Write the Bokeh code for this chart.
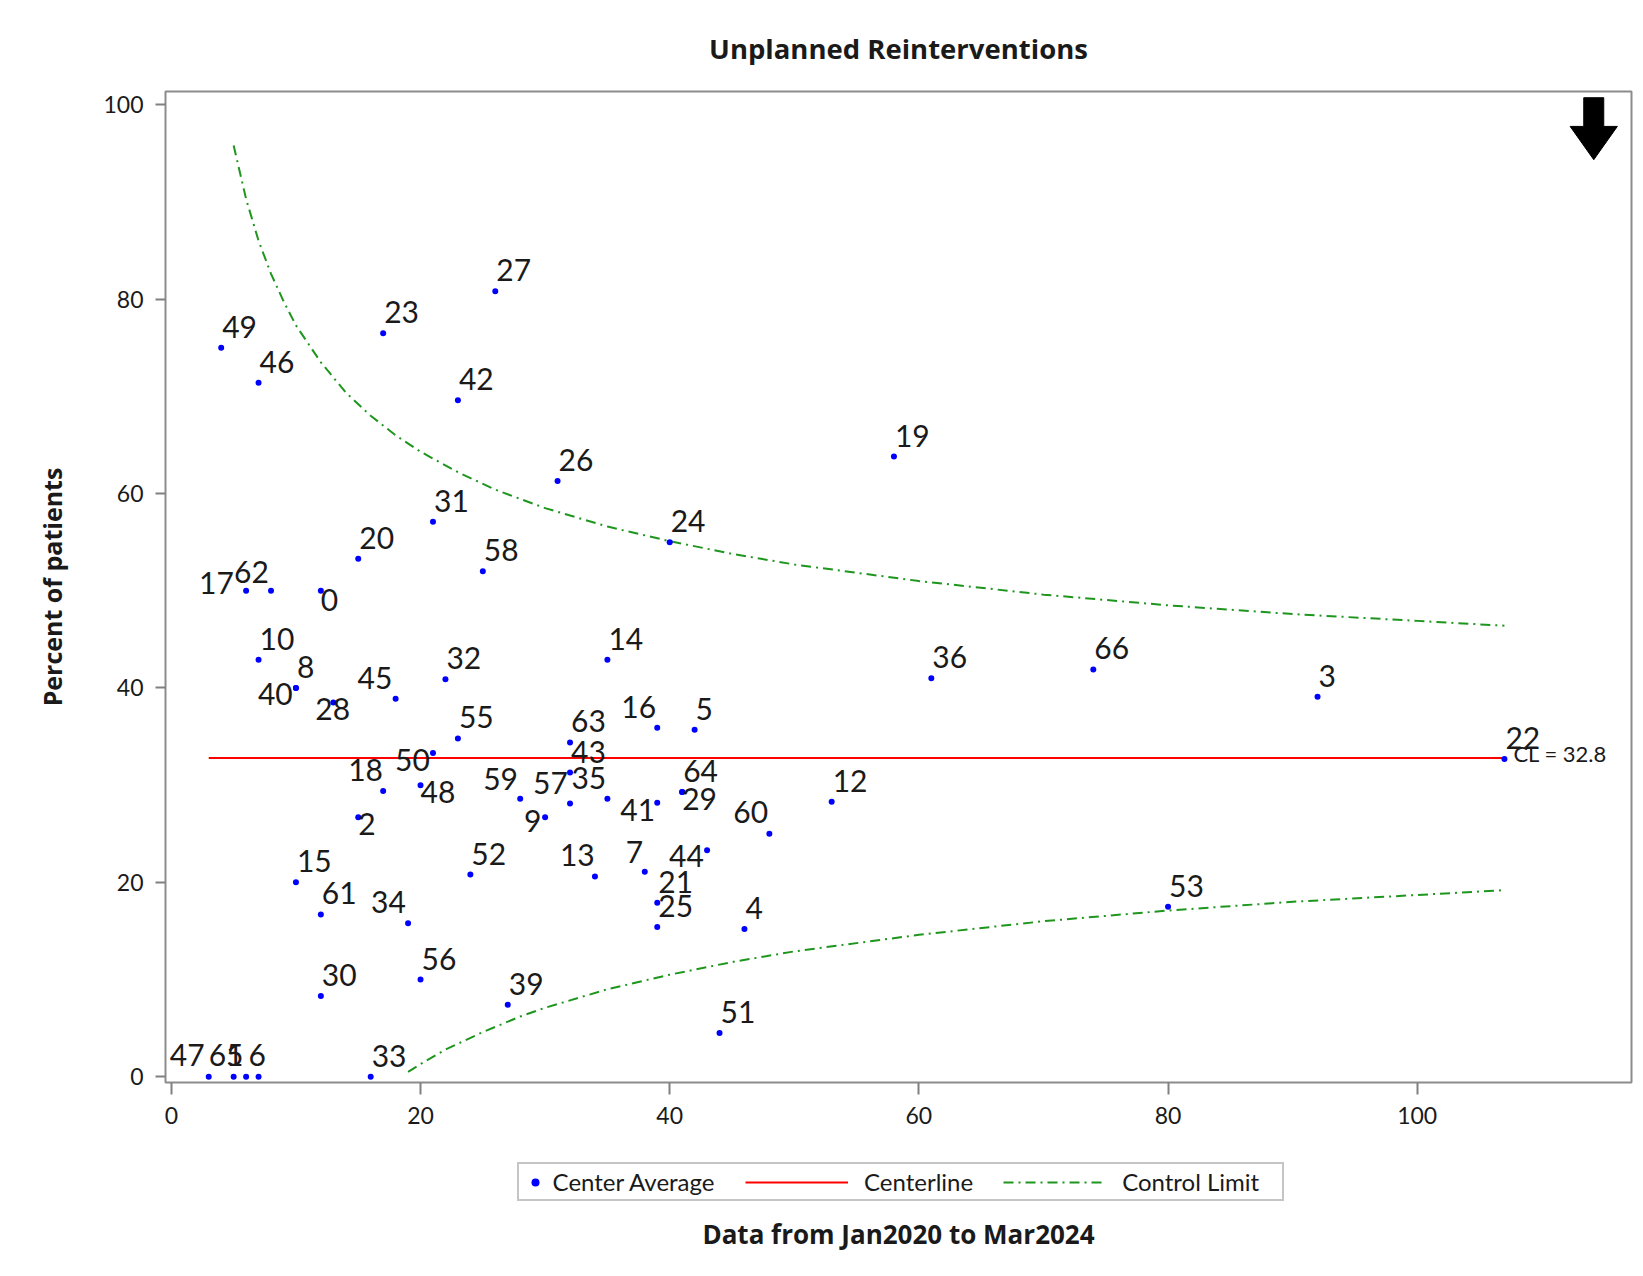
from bokeh.plotting import figure
from bokeh.layouts import column
from bokeh.models import Range1d, Legend, LegendItem, FixedTicker, ColumnDataSource
from bokeh.core.properties import value
from bokeh.embed import file_html
from bokeh.resources import INLINE

# ---------------- data ----------------
center_ids = [0, 1, 2, 3, 4, 5, 6, 7, 8, 9, 10, 12, 13, 14, 15, 16, 17, 18, 19, 20,
              21, 22, 23, 24, 25, 26, 27, 28, 29, 30, 31, 32, 33, 34, 35, 36, 39, 40,
              41, 42, 43, 44, 45, 46, 47, 48, 49, 50, 51, 52, 53, 55, 56, 57, 58, 59,
              60, 61, 62, 63, 64, 65, 66]
n_cases = [12, 6, 15, 92, 46, 42, 7, 38, 10, 30, 7, 53, 34, 35, 10, 39, 6, 17, 58, 15,
           39, 107, 17, 40, 39, 31, 26, 13, 41, 12, 21, 22, 16, 19, 35, 61, 27, 10,
           39, 23, 32, 43, 18, 7, 3, 20, 4, 21, 44, 24, 80, 23, 20, 32, 25, 28,
           48, 12, 8, 32, 41, 5, 74]
pct_patients = [50.0, 0.0, 26.7, 39.1, 15.2, 35.7, 0.0, 21.1, 40.0, 26.7, 42.9, 28.3, 20.6, 42.9, 20.0, 35.9, 50.0, 29.4, 63.8, 53.3,
                17.9, 32.7, 76.5, 55.0, 15.4, 61.3, 80.8, 38.5, 29.3, 8.3, 57.1, 40.9, 0.0, 15.8, 28.6, 41.0, 7.4, 40.0,
                28.2, 69.6, 31.3, 23.3, 38.9, 71.4, 0.0, 30.0, 75.0, 33.3, 4.5, 20.8, 17.5, 34.8, 10.0, 28.1, 52.0, 28.6,
                25.0, 16.7, 50.0, 34.4, 29.3, 0.0, 41.9]

center_line = 32.8
ucl_n = [5, 6, 7, 8, 9, 10, 12, 14, 16, 18, 20, 23, 26, 30, 35, 40, 45, 50, 60, 70, 80, 90, 100, 107]
ucl_pct = [95.8, 90.3, 86.0, 82.6, 79.8, 77.3, 73.5, 70.4, 68.0, 66.0, 64.3, 62.2, 60.4, 58.5, 56.6,
           55.1, 53.8, 52.7, 51.0, 49.6, 48.5, 47.6, 46.9, 46.4]
lcl_n = [19, 20, 22, 25, 28, 30, 35, 40, 45, 50, 60, 70, 80, 90, 100, 107]
lcl_pct = [0.5, 1.3, 2.8, 4.6, 6.2, 7.1, 9.0, 10.5, 11.8, 12.9, 14.6, 16.0, 17.1, 18.0, 18.7, 19.2]

x_ticks = [0, 20, 40, 60, 80, 100]
y_ticks = [0, 20, 40, 60, 80, 100]

chart_title = "Unplanned Reinterventions"
x_title = "Data from Jan2020 to Mar2024"
y_title = "Percent of patients"
legend_labels = ["Center Average", "Centerline", "Control Limit"]

# ---------------- label placement (screen px, styling only) ----------------
V = -11  # shift from baseline offset to text centre
DEFAULT_DX, DEFAULT_DY = 1, -10
label_shift = {
    17: (-47, 3), 62: (-37, -8), 0: (0, 20), 40: (-38, 17), 28: (-18, 17),
    45: (-38, -10), 50: (-38, 18), 18: (-35, -10), 48: (0, 18), 2: (0, 18),
    59: (-37, -9), 9: (-21, 15), 35: (-36, -10), 57: (-37, -10), 16: (-36, -10),
    41: (-37, 18), 29: (0, 18), 60: (-36, -11), 13: (-35, -11), 7: (-19, -9),
    44: (-38, 17), 34: (-37, -10), 47: (-39, -11), 65: (-25, -11), 1: (-20, -11),
    6: (-10, -11),
}
dxs = [label_shift.get(c, (DEFAULT_DX, DEFAULT_DY))[0] for c in center_ids]
dys = [label_shift.get(c, (DEFAULT_DX, DEFAULT_DY))[1] + V for c in center_ids]

src = ColumnDataSource(dict(x=n_cases, y=pct_patients, lab=[str(c) for c in center_ids], dx=dxs, dy=dys))

FONT = "Lato"
BFONT = "Open Sans"
TXT = "#1a1a1a"
GREEN = "#1e961e"
DASHDOT = "10 5 2 5"
W = 1635
FRAME_L, FRAME_R = 165, 1631

p = figure(width=W, height=1140, output_backend="svg", toolbar_location=None,
           x_range=Range1d(-0.47, 117.2), y_range=Range1d(-0.59, 101.36),
           min_border_left=FRAME_L, min_border_right=W - FRAME_R, min_border_top=91, min_border_bottom=58,
           title=chart_title)
p.background_fill_color = "white"
p.border_fill_color = "white"
p.outline_line_color = "#8c8c8c"
p.outline_line_width = 2
p.xgrid.visible = False
p.ygrid.visible = False

p.title.align = "center"
p.title.text_font = BFONT
p.title.text_font_size = "27.5px"
p.title.text_font_style = "bold"
p.title.text_color = TXT
p.title.standoff = 49

for ax in (p.xaxis[0], p.yaxis[0]):
    ax.axis_line_color = None
    ax.major_tick_line_color = "#808080"
    ax.major_tick_line_width = 2
    ax.major_tick_in = 0
    ax.minor_tick_line_color = None
    ax.major_label_text_font = FONT
    ax.major_label_text_font_size = "23px"
    ax.major_label_text_color = TXT
    ax.axis_label_text_font = BFONT
    ax.axis_label_text_font_size = "25px"
    ax.axis_label_text_font_style = "bold"
    ax.axis_label_text_color = TXT

p.xaxis.ticker = FixedTicker(ticks=x_ticks)
p.yaxis.ticker = FixedTicker(ticks=y_ticks)
p.xaxis.major_tick_out = 12
p.yaxis.major_tick_out = 10
p.xaxis.major_label_standoff = 12
p.yaxis.major_label_standoff = 12
p.yaxis.axis_label = y_title
p.yaxis.axis_label_standoff = 31

# control limits and centre line
p.line(ucl_n, ucl_pct, line_color=GREEN, line_width=2, line_dash=DASHDOT)
p.line(lcl_n, lcl_pct, line_color=GREEN, line_width=2, line_dash=DASHDOT)
p.line([min(n_cases), max(n_cases)], [center_line, center_line], line_color="#ff0000", line_width=2)

p.scatter("x", "y", source=src, size=6, marker="circle", fill_color="#0000ff", line_color=None)

p.text("x", "y", text="lab", source=src, x_offset="dx", y_offset="dy",
       text_font=value(FONT), text_font_size="30px", text_color=TXT,
       text_align="left", text_baseline="alphabetic")

p.text([max(n_cases)], [center_line], text=[f"CL = {center_line}"], x_offset=9, y_offset=-4,
       text_font=value(FONT), text_font_size="22px", text_color=TXT,
       text_align="left", text_baseline="middle")

# decorative down arrow (top-right), sized in screen px around an anchor
px_x = (FRAME_R - FRAME_L) / (117.2 + 0.47)
px_y = 991 / (101.36 + 0.59)
ax0, ay0 = 114.17, 100.72
shaft_hw, head_hw, shaft_len, head_len = 10, 23.6, 28.7, 33.3
arrow_x = [ax0 - shaft_hw / px_x, ax0 + shaft_hw / px_x, ax0 + shaft_hw / px_x, ax0 + head_hw / px_x,
           ax0, ax0 - head_hw / px_x, ax0 - shaft_hw / px_x]
arrow_y = [ay0, ay0, ay0 - shaft_len / px_y, ay0 - shaft_len / px_y,
           ay0 - (shaft_len + head_len) / px_y, ay0 - shaft_len / px_y, ay0 - shaft_len / px_y]
p.patch(arrow_x, arrow_y, fill_color="black", line_color="black")

# ---------------- footer: legend + x-axis title ----------------
# (the column aligns this footer's frame with the chart frame, so page x = data x here)
LH = 130
f = figure(width=W, height=LH, output_backend="svg", toolbar_location=None,
           x_axis_type=None, y_axis_type=None, min_border=0,
           x_range=Range1d(FRAME_L, FRAME_R), y_range=Range1d(0, LH))
f.outline_line_color = None
f.background_fill_color = "white"
f.border_fill_color = "white"
f.xgrid.visible = False
f.ygrid.visible = False

# legend key glyphs (kept outside the visible footer range; only their legend swatches show)
off = [-1000]
k_dot = f.scatter(off, off, size=5, marker="circle", fill_color="#0000ff", line_color=None)
k_cl = f.line(off + off, off + off, line_color="#ff0000", line_width=2)
k_lim = f.line(off + off, off + off, line_color=GREEN, line_width=2, line_dash=DASHDOT)

leg_a = Legend(items=[LegendItem(label=legend_labels[0], renderers=[k_dot])],
               location=(516.6 - FRAME_L, 69), orientation="horizontal",
               glyph_width=26, glyph_height=20, label_standoff=5, padding=3, label_width=726,
               border_line_color="#8c8c8c", border_line_width=2,
               background_fill_color="white", background_fill_alpha=1.0,
               label_text_font=FONT, label_text_font_size="24px", label_text_color=TXT)
leg_b = Legend(items=[LegendItem(label=legend_labels[1], renderers=[k_cl]),
                      LegendItem(label=legend_labels[2], renderers=[k_lim])],
               location=(745 - FRAME_L, 74), orientation="horizontal",
               glyph_width=103, glyph_height=20, label_standoff=16, padding=3, spacing=30,
               border_line_color=None, background_fill_alpha=0.0,
               label_text_font=FONT, label_text_font_size="24px", label_text_color=TXT)
f.add_layout(leg_a, "center")
f.add_layout(leg_b, "center")

f.text([898], [37], text=[x_title], text_font=value(BFONT), text_font_size="26px",
       text_font_style="bold", text_color=TXT, text_align="center", text_baseline="middle")

layout = column(p, f, spacing=0)
open("out.html", "w").write(file_html(layout, INLINE))
